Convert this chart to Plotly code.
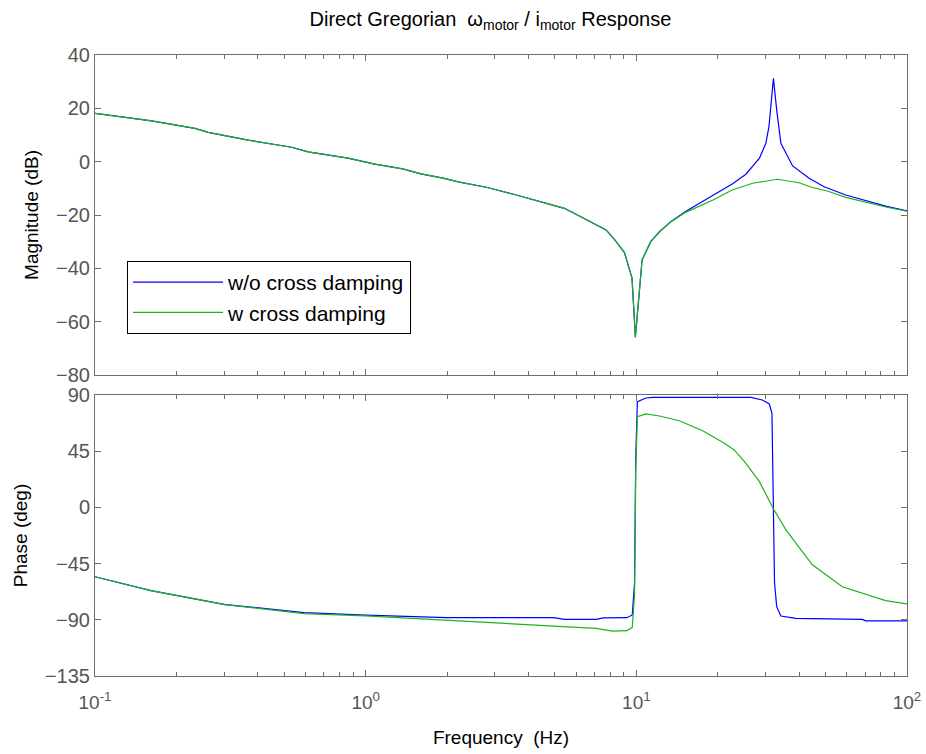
import plotly.graph_objects as go

# ---------------- data ----------------
mag_blue_f = [0.1, 0.133, 0.162, 0.234, 0.262, 0.368, 0.532, 0.613, 0.861, 1.08, 1.37, 1.60, 1.93, 2.22,
              2.79, 3.60, 4.39, 5.42, 6.16, 7.73, 8.3, 9.04, 9.64, 9.92, 10.5, 11.3, 12.2, 13.4, 15.2,
              17.5, 19.2, 22.6, 25.4, 28.5, 30.1, 30.9, 32.1, 33.0, 34.2, 37.8, 43.5, 49.4, 59.4, 83.4,
              98.8, 100]
mag_blue = [18.1, 16.5, 15.3, 12.5, 11.0, 8.1, 5.4, 3.7, 1.3, -0.9, -2.7, -4.6, -6.2, -7.7,
            -9.6, -12.5, -15.0, -17.5, -20.4, -25.6, -29.1, -34.1, -43.7, -65.8, -36.9, -30.0, -26.2, -22.5, -18.7,
            -15.0, -12.5, -8.4, -4.7, 1.3, 6.9, 13.1, 31.3, 19.4, 6.9, -1.6, -6.2, -9.4, -12.5, -16.7,
            -18.3, -18.4]

mag_green_f = [0.1, 0.133, 0.162, 0.234, 0.262, 0.368, 0.532, 0.613, 0.861, 1.08, 1.37, 1.60, 1.93, 2.22,
               2.79, 3.60, 4.39, 5.42, 6.16, 7.73, 8.3, 9.04, 9.64, 9.92, 10.5, 11.3, 12.2, 13.4, 15.2,
               17.5, 19.2, 22.6, 26.9, 33.2, 39.9, 44.7, 50.8, 59.4, 83.4, 98.8, 100]
mag_green = [18.1, 16.5, 15.3, 12.5, 11.0, 8.1, 5.4, 3.7, 1.3, -0.9, -2.7, -4.6, -6.2, -7.7,
             -9.6, -12.5, -15.0, -17.5, -20.4, -25.6, -29.1, -34.1, -43.7, -65.8, -36.9, -30.0, -26.2, -22.6, -19.0,
             -16.2, -14.4, -10.6, -8.1, -6.6, -7.9, -9.7, -11.0, -13.4, -17.0, -18.5, -18.6]

ph_blue_f = [0.1, 0.161, 0.303, 0.4, 0.592, 1.0, 1.99, 4.94, 5.42, 7.11, 7.55, 9.23, 9.66, 9.85, 9.95,
             10.09, 10.86, 11.5, 26.5, 29.2, 31.0, 31.7, 32.0, 32.4, 33.0, 34.2, 38.8, 68.4, 70.4, 100]
ph_blue = [-55.5, -66.7, -77.8, -80.5, -84.2, -86.2, -88.3, -88.3, -89.6, -89.6, -88.5, -88.3, -86.1, -60, 40,
           84.7, 87.6, 88.1, 88.1, 86.0, 82.8, 75.3, 0, -60, -79.5, -87.0, -88.9, -89.7, -90.8, -90.8]

ph_green_f = [0.1, 0.161, 0.303, 0.4, 0.592, 1.0, 1.99, 4.94, 7.11, 8.15, 9.23, 9.66, 9.85, 9.95, 10.09,
              10.86, 12.17, 14.42, 17.58, 21.15, 23.0, 25.1, 28.5, 32.0, 35.7, 44.7, 57.7, 83.4, 100]
ph_green = [-55.5, -66.7, -77.8, -81.0, -85.0, -86.8, -90.1, -95.0, -96.9, -99.0, -98.7, -96.0, -70, 30, 72.6,
            74.8, 73.2, 69.4, 61.4, 51.3, 46.0, 36.6, 20.6, -0.7, -18.0, -46.0, -63.5, -74.7, -77.3]

series_names = ["w/o cross damping", "w cross damping"]
x_tickvals = [0.1, 1, 10, 100]
x_ticktext = ["10<sup>-1</sup>", "10<sup>0</sup>", "10<sup>1</sup>", "10<sup>2</sup>"]
x_minor = [m * d for d in (0.1, 1, 10) for m in range(2, 10)]
mag_ticks = [-80, -60, -40, -20, 0, 20, 40]
ph_ticks = [-135, -90, -45, 0, 45, 90]

# ---------------- figure ----------------
BLUE = "#0000FF"
GREEN = "#1DB31D"
FONT = "Arial, Liberation Sans, sans-serif"
AX = "#6e6e6e"
TICKC = "#555555"

fig = go.Figure()
fig.add_trace(go.Scatter(x=mag_blue_f, y=mag_blue, mode="lines", name=series_names[0],
                         line=dict(color=BLUE, width=1.2), xaxis="x", yaxis="y"))
fig.add_trace(go.Scatter(x=mag_green_f, y=mag_green, mode="lines", name=series_names[1],
                         line=dict(color=GREEN, width=1.2), xaxis="x", yaxis="y"))
fig.add_trace(go.Scatter(x=ph_blue_f, y=ph_blue, mode="lines", showlegend=False,
                         line=dict(color=BLUE, width=1.2), xaxis="x2", yaxis="y2"))
fig.add_trace(go.Scatter(x=ph_green_f, y=ph_green, mode="lines", showlegend=False,
                         line=dict(color=GREEN, width=1.2), xaxis="x2", yaxis="y2"))

common_x = dict(type="log", range=[-1, 2], tickmode="array", tickvals=x_tickvals, ticktext=x_ticktext,
                ticks="inside", ticklen=6, tickcolor=AX, showline=True, linecolor=AX, linewidth=1,
                mirror="ticks", showgrid=False, zeroline=False, automargin=False,
                minor=dict(tickmode="array", tickvals=x_minor, ticks="inside", ticklen=4, tickcolor=AX,
                           showgrid=False),
                tickfont=dict(family=FONT, size=19, color=TICKC))
common_y = dict(ticks="inside", ticklen=6, tickcolor=AX, showline=True, linecolor=AX, linewidth=1,
                mirror="ticks", showgrid=False, zeroline=False, automargin=False,
                tickfont=dict(family=FONT, size=20, color=TICKC))

top_lo = (676 - 375) / 621
bot_hi = (676 - 395) / 621
TFONT = dict(family=FONT, size=19, color="black")

fig.update_layout(
    width=926, height=754,
    margin=dict(l=95, r=19, t=55, b=78),
    paper_bgcolor="white", plot_bgcolor="white",
    font=dict(family=FONT, color="black"),
    title=dict(text="Direct Gregorian  ω<sub>motor</sub> / i<sub>motor</sub> Response",
               x=0.487, xref="paper", xanchor="center", y=1 - 19 / 754, yref="container",
               yanchor="middle", font=dict(family=FONT, size=20, color="black")),
    xaxis=dict(common_x, domain=[0, 1], anchor="y", showticklabels=False),
    yaxis=dict(common_y, domain=[top_lo, 1], anchor="x", range=[-80, 40], tickvals=mag_ticks,
               title=dict(text="Magnitude (dB)", font=TFONT, standoff=12)),
    xaxis2=dict(common_x, domain=[0, 1], anchor="y2", ticklabelstandoff=9,
                title=dict(text="Frequency  (Hz)", font=TFONT, standoff=18)),
    yaxis2=dict(common_y, domain=[0, bot_hi], anchor="x2", range=[-135, 90], tickvals=ph_ticks,
                title=dict(text="Phase (deg)", font=TFONT, standoff=12)),
    legend=dict(x=(127 - 95) / 812, y=(676 - 261) / 621, xanchor="left", yanchor="top",
                bgcolor="white", bordercolor="black", borderwidth=1,
                font=dict(family=FONT, size=21, color="black"),
                itemwidth=90, entrywidth=196, entrywidthmode="pixels", tracegroupgap=0),
    showlegend=True,
)

fig.write_html("out.html", config={"displayModeBar": False},
               post_script="document.body.style.margin='0px';")
